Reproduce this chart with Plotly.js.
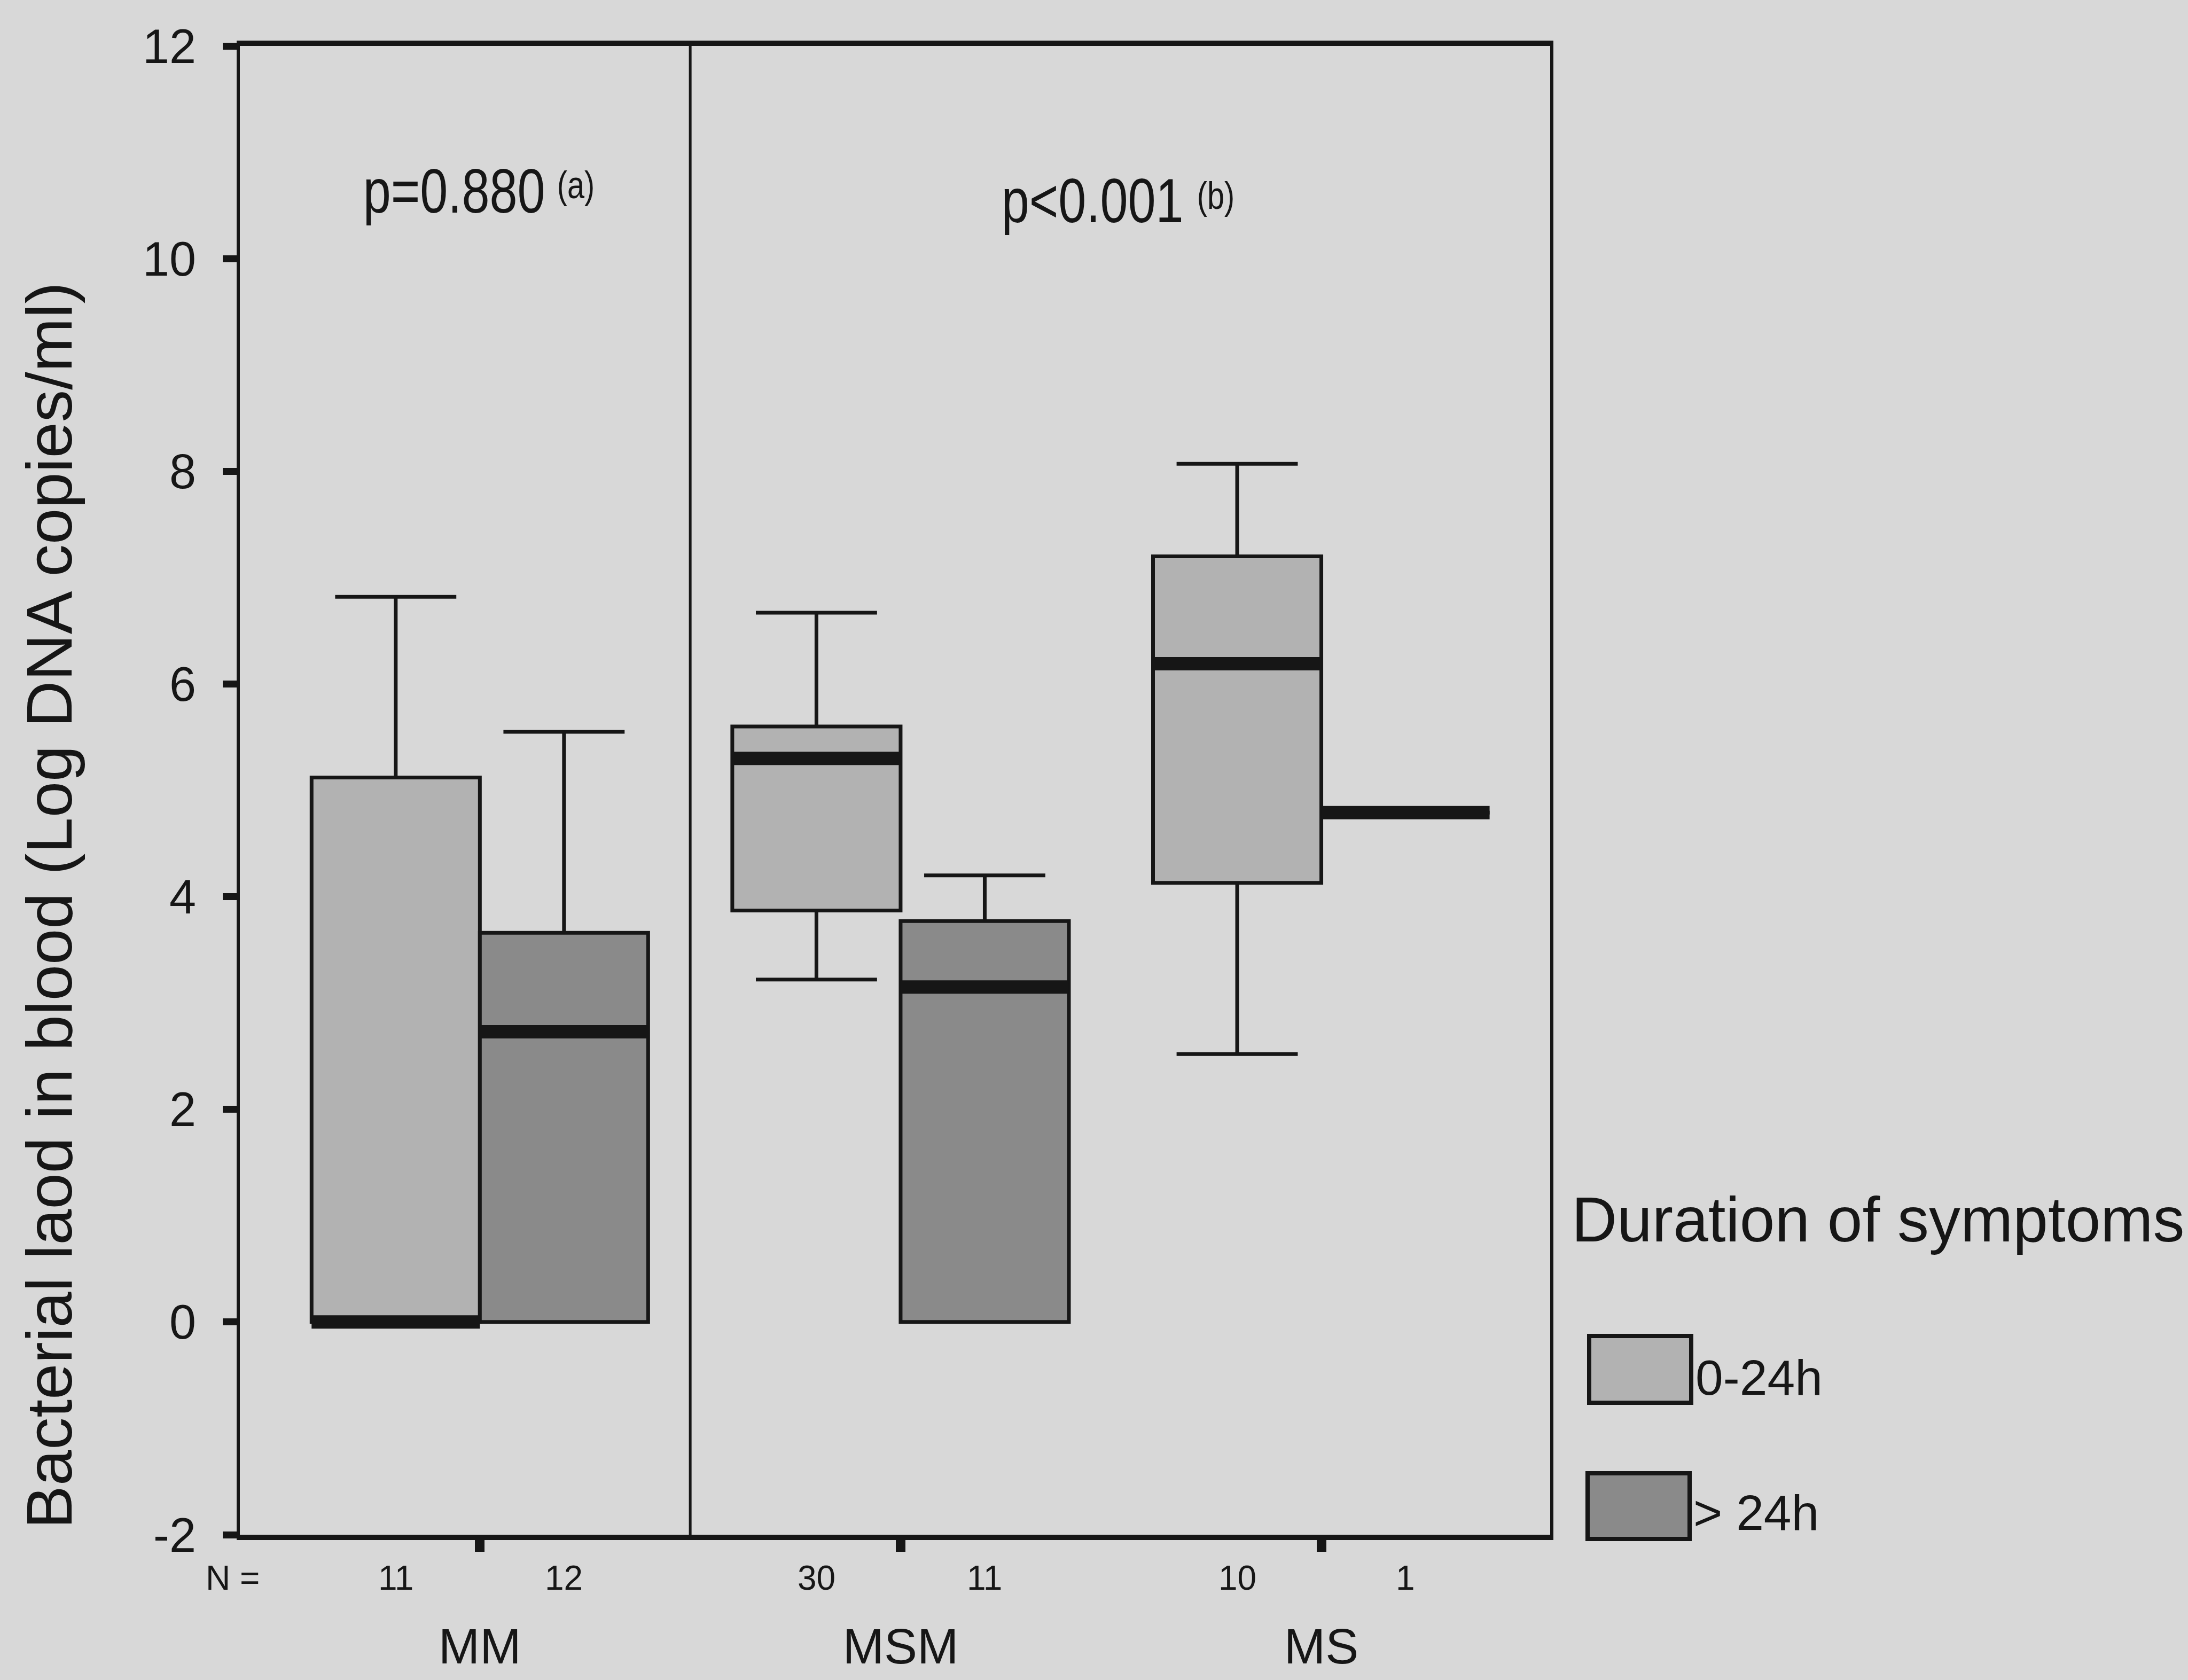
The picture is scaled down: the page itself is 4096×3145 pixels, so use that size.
<!DOCTYPE html>
<html><head><meta charset="utf-8">
<script src="https://cdn.plot.ly/plotly-3.0.1.min.js"></script>
<style>html,body{margin:0;padding:0;background:#d8d8d8;}#chart{width:4096px;height:3145px;}</style>
</head><body><div id="chart"></div>
<script>
// ---- data ----
const categories = ['MM', 'MSM', 'MS'];
const groupNames = ['0-24h', '> 24h'];
// Duration 0-24h
const q1Short   = [0, 3.87, 4.13];
const medShort  = [0, 5.30, 6.19];
const q3Short   = [5.12, 5.60, 7.20];
const lowShort  = [0, 3.22, 2.52];
const highShort = [6.82, 6.67, 8.07];
const nShort    = [11, 30, 10];
// Duration > 24h
const q1Long   = [0, 0, 4.79];
const medLong  = [2.73, 3.15, 4.79];
const q3Long   = [3.66, 3.77, 4.79];
const lowLong  = [0, 0, 4.79];
const highLong = [5.55, 4.20, 4.79];
const nLong    = [12, 11, 1];
const yTicks = [-2, 0, 2, 4, 6, 8, 10, 12];
const pMain = ['p=0.880', 'p<0.001'];
const pNote = ['(a)', '(b)'];

// ---- layout geometry ----
const W = 4096, H = 3145;
const L = 449, R = W - 2902, T = 86, B = H - 2873;
const px = X => (X - L) / (W - L - R);
const py = Y => (H - B - Y) / (H - T - B);
const BOXGAP = 0.2;
const boxOffset = (1 - BOXGAP) / 4;

const ink = '#161616';
const bg = '#d8d8d8';
const fillShort = '#b2b2b2';
const fillLong = '#8a8a8a';
const FONT = 'Liberation Sans, Arial, Helvetica, sans-serif';

function boxTrace(name, q1, med, q3, lo, hi, fill, group) {
  return {type: 'box', name: name, x: categories, q1: q1, median: med, q3: q3,
    lowerfence: lo, upperfence: hi, offsetgroup: group, alignmentgroup: 'all',
    fillcolor: fill, line: {color: ink, width: 7}, whiskerwidth: 0.72,
    boxpoints: false, showlegend: false, hoverinfo: 'skip'};
}
function medianTrace(name, med, group) {
  return {type: 'box', name: name + ' median', x: categories, q1: med, median: med, q3: med,
    lowerfence: med, upperfence: med, offsetgroup: group, alignmentgroup: 'all',
    fillcolor: 'rgba(0,0,0,0)', line: {color: ink, width: 25}, whiskerwidth: 0,
    boxpoints: false, showlegend: false, hoverinfo: 'skip'};
}

const data = [
  boxTrace(groupNames[0], q1Short, medShort, q3Short, lowShort, highShort, fillShort, 'a'),
  boxTrace(groupNames[1], q1Long, medLong, q3Long, lowLong, highLong, fillLong, 'b'),
  medianTrace(groupNames[0], medShort, 'a'),
  medianTrace(groupNames[1], medLong, 'b')
];

const annotations = [];
// y axis title
annotations.push({text: 'Bacterial laod in blood (Log DNA copies/ml)', xref: 'paper', yref: 'paper',
  x: px(92), y: py(1695), xanchor: 'center', yanchor: 'middle', textangle: -90, showarrow: false,
  font: {family: FONT, size: 121, color: ink}});
// N = row
annotations.push({text: 'N =', xref: 'paper', yref: 'paper', x: px(488), y: py(2954),
  xanchor: 'right', yanchor: 'middle', showarrow: false, font: {family: FONT, size: 64, color: ink}});
categories.forEach((c, i) => {
  annotations.push({text: String(nShort[i]), xref: 'x', yref: 'paper', x: i - boxOffset, y: py(2954),
    xanchor: 'center', yanchor: 'middle', showarrow: false, font: {family: FONT, size: 64, color: ink}});
  annotations.push({text: String(nLong[i]), xref: 'x', yref: 'paper', x: i + boxOffset, y: py(2954),
    xanchor: 'center', yanchor: 'middle', showarrow: false, font: {family: FONT, size: 64, color: ink}});
});
// p values (centres in output pixels)
const pPos = [{x: 850, y: 358, nx: 1078, ny: 346}, {x: 2045, y: 376, nx: 2276, ny: 366}];
pMain.forEach((t, i) => {
  annotations.push({text: t, xref: 'paper', yref: 'paper', x: px(pPos[i].x), y: py(pPos[i].y),
    xanchor: 'center', yanchor: 'middle', showarrow: false, font: {family: FONT, size: 117, color: ink}});
  annotations.push({text: pNote[i], xref: 'paper', yref: 'paper', x: px(pPos[i].nx), y: py(pPos[i].ny),
    xanchor: 'center', yanchor: 'middle', showarrow: false, font: {family: FONT, size: 72, color: ink}});
});
// legend
annotations.push({text: 'Duration of symptoms', xref: 'paper', yref: 'paper', x: px(2940), y: py(2283),
  xanchor: 'left', yanchor: 'middle', showarrow: false, font: {family: FONT, size: 118, color: ink}});
annotations.push({text: groupNames[0], xref: 'paper', yref: 'paper', x: px(3172), y: py(2579),
  xanchor: 'left', yanchor: 'middle', showarrow: false, font: {family: FONT, size: 93, color: ink}});
annotations.push({text: groupNames[1], xref: 'paper', yref: 'paper', x: px(3168), y: py(2832),
  xanchor: 'left', yanchor: 'middle', showarrow: false, font: {family: FONT, size: 93, color: ink}});

const shapes = [
  {type: 'line', xref: 'x', yref: 'paper', x0: 0.5, x1: 0.5, y0: 0, y1: 1, line: {color: ink, width: 5}},
  {type: 'rect', xref: 'paper', yref: 'paper', x0: px(2975), x1: px(3166), y0: py(2626), y1: py(2501),
    fillcolor: fillShort, line: {color: ink, width: 8}},
  {type: 'rect', xref: 'paper', yref: 'paper', x0: px(2972), x1: px(3163), y0: py(2881), y1: py(2758),
    fillcolor: fillLong, line: {color: ink, width: 8}}
];

const layout = {
  width: W, height: H,
  margin: {l: L, r: R, t: T, b: B, pad: 0},
  paper_bgcolor: bg, plot_bgcolor: bg,
  boxmode: 'group', boxgap: BOXGAP, boxgroupgap: 0,
  showlegend: false,
  font: {family: FONT, color: ink},
  xaxis: {type: 'category', categoryorder: 'array', categoryarray: categories,
    range: [-0.5705, 2.544], showline: true, linewidth: 10, linecolor: ink, mirror: true,
    ticks: 'outside', ticklen: 22, tickwidth: 18, tickcolor: ink,
    tickfont: {family: FONT, size: 93, color: ink}, ticklabelstandoff: 97,
    showgrid: false, zeroline: false, fixedrange: true},
  yaxis: {range: [-2, 12], tickmode: 'array', tickvals: yTicks, ticktext: yTicks.map(String),
    showline: true, linewidth: 6, linecolor: ink, mirror: true,
    ticks: 'outside', ticklen: 26, tickwidth: 13, tickcolor: ink,
    tickfont: {family: FONT, size: 90, color: ink}, ticklabelstandoff: 32,
    showgrid: false, zeroline: false, fixedrange: true},
  annotations: annotations,
  shapes: shapes
};

Plotly.newPlot('chart', data, layout, {staticPlot: true, displayModeBar: false}).then(gd => {
  // the p-values are set in a condensed face: narrow them horizontally about their centre
  const narrow = new Set(pMain.concat(pNote));
  gd.querySelectorAll('text.annotation-text').forEach(el => {
    if (narrow.has(el.textContent)) {
      const bb = el.getBBox();
      const cx = bb.x + bb.width / 2;
      el.setAttribute('transform', 'translate(' + cx + ',0) scale(0.8,1) translate(' + (-cx) + ',0)');
    }
  });
});
</script>
</body></html>
